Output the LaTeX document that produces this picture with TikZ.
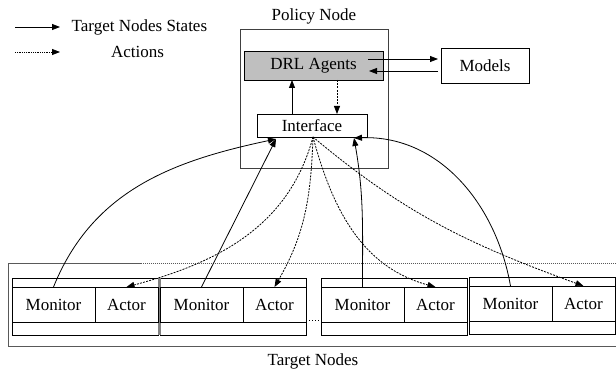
\documentclass[tikz,border=0pt]{standalone}
\usepackage{fontspec}
\setmainfont{Liberation Serif}
\usetikzlibrary{arrows.meta}

\begin{document}
\begin{tikzpicture}[x=1pt,y=1pt,line width=0.8pt,
  font=\fontsize{17}{20}\selectfont,
  >={Triangle[length=8pt,width=6pt]},
  box/.style={draw,inner sep=0pt,outer sep=0pt},
  cell/.style={box,minimum height=35pt},
  group/.style={box,minimum width=146pt,minimum height=57pt},
  frame/.style={draw=black!65,dash pattern=on 1.5pt off 0.5pt,line width=1pt},
  state/.style={->},
  action/.style={->,dash pattern=on 2pt off 1.2pt}]
\useasboundingbox (0,0) rectangle (616,-374);
% legend
\coordinate (lgs1) at (15,-27);
\coordinate (lgs2) at (60,-27);
\coordinate (lga1) at (15,-52);
\coordinate (lga2) at (60,-52);
\draw[state] (lgs1) -- (lgs2) node[right=8pt] (lgstxt) {Target Nodes States};
\draw[->,densely dotted] (lga1) -- (lga2);
\node (lgatxt) at (137.5,-52) {Actions};
% policy node
\node (poltxt) at (314,-16) {Policy Node};
\node[box,draw=black!75,minimum width=148pt,minimum height=139pt] (pol) at (314,-98.5) {};
\node[box,fill=gray!50,minimum width=139pt,minimum height=29pt] (drl) at (313.5,-65.5) {DRL Agents};
\node[box,minimum width=88pt,minimum height=35pt] (mod) at (485,-65.5) {Models};
\node[box,minimum width=110pt,minimum height=23pt] (intf) at (312,-125.5) {Interface};
\draw[state] ([xshift=-15pt,yshift=6.5pt]drl.east) -- ([xshift=-3pt,yshift=6.5pt]mod.west);
\draw[state] ([xshift=-3pt,yshift=-5.5pt]mod.west) -- ([xshift=-14pt,yshift=-5.5pt]drl.east);
\draw[state] ([xshift=-20pt]intf.north) -- ([xshift=-21.5pt]drl.south);
\draw[action] ([xshift=23.5pt]drl.south) -- ([xshift=25pt]intf.north);
% target nodes
\draw[frame] (616,-264) -- (8,-264) -- (8,-346) -- (616,-346);
\node (tgttxt) at (313,-361) {Target Nodes};
\node[group] (g1) at (85,-306.5) {};
\node[group] (g2) at (233,-306.5) {};
\node[group] (g3) at (394,-306.5) {};
\node[group] (g4) at (542,-305.5) {};
\draw[gray,line width=2.5pt] ([xshift=1.5pt]g1.north east) -- ([xshift=1.5pt]g1.south east);
\node[cell,minimum width=83pt] (m1) at (53.5,-304.5) {Monitor};
\node[cell,minimum width=63pt] (a1) at (126.5,-304.5) {Actor};
\node[cell,minimum width=83pt] (m2) at (201.5,-304.5) {Monitor};
\node[cell,minimum width=63pt] (a2) at (274.5,-304.5) {Actor};
\node[cell,minimum width=83pt] (m3) at (362.5,-304.5) {Monitor};
\node[cell,minimum width=63pt] (a3) at (435.5,-304.5) {Actor};
\node[cell,minimum width=83pt] (m4) at (510.5,-303.5) {Monitor};
\node[cell,minimum width=63pt] (a4) at (583.5,-303.5) {Actor};
\draw[dotted,line width=1pt] ([yshift=2pt]a2.south east) -- ([yshift=2pt]m3.south west);
% states and actions
\coordinate (ifl) at ([xshift=-36pt,yshift=-2pt]intf.south);
\coordinate (ifr) at ([xshift=42pt,yshift=-1pt]intf.south);
\coordinate (ifc) at ([xshift=1pt]intf.south);
\draw[state] (m1.north) to[out=68,in=192] (ifl);
\draw[state] (m2.north) -- (ifl);
\draw[state] (m3.north) to[out=90,in=-80] (ifr);
\draw[state] (m4.north) to[out=100,in=2] (ifr);
\draw[action] (ifc) to[out=-105,in=15] (a1.north);
\draw[action] (ifc) to[out=-92,in=60] (a2.north);
\draw[action] (ifc) to[out=-75,in=165] (a3.north);
\draw[action] (ifc) to[out=-40,in=160] (a4.north);
\end{tikzpicture}
\end{document}
